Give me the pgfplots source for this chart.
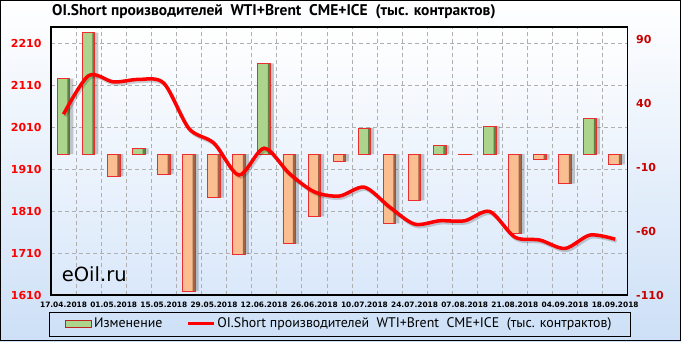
\documentclass[border=0pt]{standalone}
\usepackage{fontspec}
\usepackage{pgfplots}
\pgfplotsset{compat=1.18}
\setmainfont{DejaVu Sans}
\newfontfamily\ptsans{PT Sans}
\definecolor{gridgray}{RGB}{175,175,175}
\definecolor{bgblue}{RGB}{205,224,247}
\definecolor{plotblue}{RGB}{218,232,250}
\definecolor{greenM}{RGB}{172,212,140}
\definecolor{greenD}{RGB}{95,130,70}
\definecolor{orangeM}{RGB}{250,190,145}
\definecolor{orangeD}{RGB}{160,100,70}
\definecolor{barred}{RGB}{235,45,45}
\definecolor{rightred}{RGB}{200,0,0}
\pgfplotsset{
  base/.style={
    at={(51pt,46pt)}, anchor=south west,
    scale only axis, width=576.7pt, height=268pt,
    xmin=-0.5, xmax=22.5,
    /pgf/number format/assume math mode=true,
    /pgf/number format/1000 sep={},
    major tick length=0pt, minor tick length=0pt,
  }
}
\pgfplotstableread{
x y
0 59
1 95
2 -17
3 4.5
4 -15.5
5 -107
6 -34
7 -78
8 71
9 -70
10 -48.6
11 -5.5
12 20.5
13 -54
14 -36
15 7
16 -0.5
17 22
18 -62
19 -4.3
20 -23
21 28
22 -8
}\chg
\pgfplotstableread{
x y
0 59
1 95
3 4.5
8 71
12 20.5
15 7
17 22
21 28
}\pos
\pgfplotstableread{
x y
2 -17
4 -15.5
5 -107
6 -34
7 -78
9 -70
10 -48.6
11 -5.5
13 -54
14 -36
16 -0.5
18 -62
19 -4.3
20 -23
22 -8
}\neg
\pgfplotstableread{
x y
0 2041
1 2133
2 2118
3 2124
4 2115
5 2007
6 1972
7 1896
8 1960
9 1900
10 1856
11 1846
12 1867
13 1820
14 1779
15 1787
16 1787
17 1809
18 1748
19 1741
20 1721
21 1753
22 1743
}\oi
\begin{document}
\begin{tikzpicture}[x=1pt,y=1pt]
\useasboundingbox (0,0) rectangle (681,341);
\shade[top color=white, bottom color=bgblue] (0,0) rectangle (681,341);

\begin{axis}[base, ymin=1610, ymax=2249,
  axis background/.style={shade, top color=white, middle color=white, bottom color=plotblue},
  xtick={0,2,...,22},
  xticklabels={17.04.2018,01.05.2018,15.05.2018,29.05.2018,12.06.2018,26.06.2018,10.07.2018,24.07.2018,07.08.2018,21.08.2018,04.09.2018,18.09.2018},
  minor xtick={0.5,1.5,...,21.5},
  xminorgrids, ymajorgrids,
  ytick={1610,1710,...,2210},
  grid style={gridgray, dash pattern=on 4pt off 3pt, line width=0.6pt},
  minor grid style={gridgray, dash pattern=on 4pt off 3pt, line width=0.6pt},
  axis line style={black, line width=1.3pt},
  yticklabel style={font=\bfseries\fontsize{11}{11}\selectfont, text=red, xshift=-6pt},
  xticklabel style={font=\bfseries\fontsize{7.4}{8}\selectfont, yshift=-3pt},
]
\end{axis}

\begin{axis}[base, ymin=-110, ymax=99.4,
  axis x line=none, axis y line*=right,
  axis line style={black, line width=1.3pt},
  ytick={-110,-60,-10,40,90},
  yticklabel style={font=\bfseries\fontsize{11}{11}\selectfont, text=rightred, xshift=5pt},
]
\addplot[ybar, bar width=0.5, bar shift=0.14, fill=black, draw=none, opacity=0.2, forget plot] table {\chg};
\addplot[ybar, bar width=0.5, bar shift=0, fill=greenM, draw=none] table {\pos};
\addplot[ybar, bar width=0.5, bar shift=0, fill=orangeM, draw=none] table {\neg};
\addplot[ybar, bar width=0.1, bar shift=0.2, fill=greenD, draw=none] table {\pos};
\addplot[ybar, bar width=0.1, bar shift=0.2, fill=orangeD, draw=none] table {\neg};
\addplot[ybar, bar width=0.5, bar shift=0, fill=none, draw=barred, line width=0.8pt] table {\chg};
\end{axis}

\begin{axis}[base, ymin=1610, ymax=2249, hide axis,
  legend style={at={(0.5,-0.1063)}, anchor=center, draw=none, fill=none,
    legend columns=2, font=\ptsans\fontsize{13.9}{14}\selectfont,
    /tikz/every even column/.append style={column sep=22pt}},
]
\addlegendimage{legend image code/.code={\draw[fill=greenM, draw=barred!80!black, line width=0.8pt] (0pt,-3.5pt) rectangle (26pt,3.5pt);}}
\addlegendentry{Изменение}
\addplot[smooth, black, opacity=0.18, line width=3.5pt, no markers, forget plot, transform canvas={xshift=1.5pt, yshift=-2pt}] table {\oi};
\addplot[smooth, red, line width=3.5pt, no markers, legend image code/.code={\draw[red, line width=3pt] (0pt,0pt) -- (26pt,0pt);}] table {\oi};
\addlegendentry{OI.Short производителей\ \ WTI+Brent\ \ CME+ICE\ \ (тыс. контрактов)}
\end{axis}

\node[anchor=base west, inner sep=0pt, font=\fontsize{19.5}{20}\selectfont] at (61.7,59.3) {eOil.ru};
\node[anchor=west, inner sep=0pt, font=\ptsans\bfseries\fontsize{15.5}{16}\selectfont] at (52,329) {OI.Short производителей\ \ WTI+Brent\ \ CME+ICE\ \ (тыс. контрактов)};
\draw[black, line width=1pt] (49,5) rectangle (630,29);
\draw[black, line width=1pt] (0.5,0.5) rectangle (680.5,340.5);
\end{tikzpicture}
\end{document}
